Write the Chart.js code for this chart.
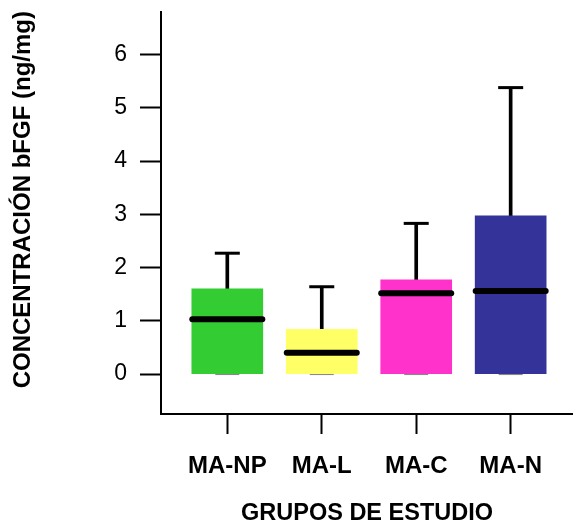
<!DOCTYPE html>
<html>
<head>
<meta charset="utf-8">
<script src="https://cdn.jsdelivr.net/npm/chart.js@4"></script>
<style>
  html, body { margin: 0; padding: 0; background: #fff; }
  #wrap { width: 573px; height: 530px; }
</style>
</head>
<body>
<div id="wrap"><canvas id="c" width="573" height="530"></canvas></div>
<script>
// Study groups and bFGF concentration summary (ng/mg)
const categories = ['MA-NP', 'MA-L', 'MA-C', 'MA-N'];
const boxTop = [1.60, 0.84, 1.77, 2.97];     // upper quartile
const medians = [1.03, 0.40, 1.52, 1.56];
const whiskerMax = [2.27, 1.64, 2.83, 5.38];
const whiskerMin = [0, 0, 0, 0];
const boxBottom = [0, 0, 0, 0];
const yTicks = [0, 1, 2, 3, 4, 5, 6];
const groupColors = ['#33CC33', '#FFFF66', '#FF33CC', '#333399'];

const FONT = 'Arial, "Liberation Sans", sans-serif';
const idx = categories.map((_, i) => i);

// round line ends for the median bars
const roundCaps = {
  id: 'roundCaps',
  beforeDatasetDraw(chart, args) {
    if (chart.data.datasets[args.index].roundCap) {
      chart.ctx.save();
      chart.ctx.lineCap = 'round';
    }
  },
  afterDatasetDraw(chart, args) {
    if (chart.data.datasets[args.index].roundCap) chart.ctx.restore();
  }
};

new Chart(document.getElementById('c'), {
  type: 'bar',
  data: {
    datasets: [
      {
        type: 'scatter',
        data: idx.map(i => ({ x: i, y: whiskerMin[i] })),
        pointStyle: 'line',
        radius: 12,
        borderColor: '#888888',
        borderWidth: 2,
        order: 5
      },
      {
        type: 'bar',
        data: idx.map(i => ({ x: i, y: [boxTop[i], whiskerMax[i]] })),
        backgroundColor: '#000',
        barThickness: 3,
        grouped: false,
        order: 4
      },
      {
        type: 'bar',
        data: idx.map(i => ({ x: i, y: [boxBottom[i], boxTop[i]] })),
        backgroundColor: groupColors,
        barThickness: 71,
        grouped: false,
        order: 3
      },
      {
        type: 'scatter',
        data: idx.map(i => ({ x: i, y: whiskerMax[i] })),
        pointStyle: 'line',
        radius: 12.5,
        borderColor: '#000',
        borderWidth: 3,
        order: 2
      },
      {
        type: 'scatter',
        roundCap: true,
        data: idx.map(i => ({ x: i, y: medians[i] })),
        pointStyle: 'line',
        radius: 35,
        borderColor: '#000',
        borderWidth: 6,
        order: 1
      }
    ]
  },
  options: {
    responsive: false,
    animation: false,
    events: [],
    layout: { autoPadding: false, padding: { top: 12, right: 0, bottom: 0, left: 0 } },
    plugins: { legend: { display: false }, tooltip: { enabled: false } },
    scales: {
      x: {
        type: 'linear',
        offset: false,
        min: -0.702,
        max: 3.66,
        afterBuildTicks: s => { s.ticks = idx.map(v => ({ value: v })); },
        afterFit: s => { s.height = 116; s.paddingLeft = 0; s.paddingRight = 0; },
        grid: { offset: false, drawOnChartArea: false, drawTicks: true, tickLength: 20, tickColor: '#000', tickWidth: 2 },
        border: { display: true, color: '#000', width: 2 },
        ticks: {
          padding: 18,
          color: '#000',
          maxRotation: 0,
          autoSkip: false,
          font: { family: FONT, size: 24, weight: 'bold' },
          callback: v => categories[v]
        },
        title: {
          display: true,
          text: 'GRUPOS DE ESTUDIO',
          color: '#000',
          font: { family: FONT, size: 23.5, weight: 'bold' },
          padding: { top: 0, bottom: 2.6 }
        }
      },
      y: {
        type: 'linear',
        min: -0.75,
        max: 6.8,
        afterBuildTicks: s => { s.ticks = yTicks.map(v => ({ value: v })); },
        afterFit: s => { s.width = 161; s.paddingTop = 0; s.paddingBottom = 0; },
        grid: { drawOnChartArea: false, drawTicks: true, tickLength: 21, tickColor: '#000', tickWidth: 2 },
        border: { display: true, color: '#000', width: 2 },
        ticks: {
          padding: 13,
          color: '#000',
          font: { family: FONT, size: 23 }
        },
        title: {
          display: true,
          // leading spaces lift the rotated title slightly above the axis centre
          text: '\u00A0\u00A0\u00A0\u00A0CONCENTRACIÓN bFGF (ng/mg)',
          color: '#000',
          font: { family: FONT, size: 24, weight: 'bold' },
          padding: { top: 9, bottom: 0 }
        }
      }
    }
  },
  plugins: [roundCaps]
});
</script>
</body>
</html>
